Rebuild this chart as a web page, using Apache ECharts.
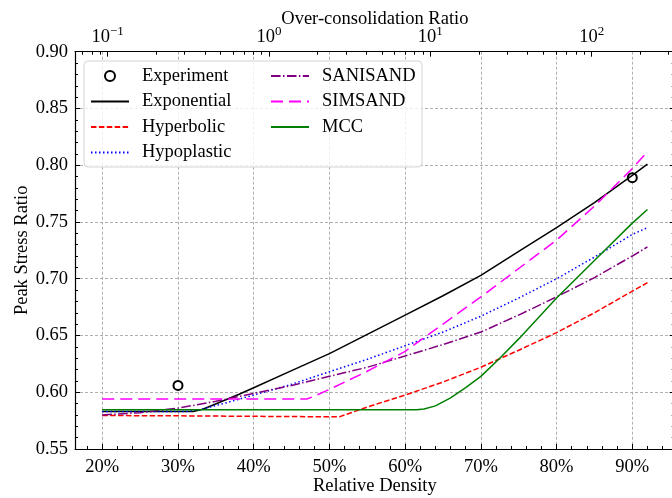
<!DOCTYPE html>
<html>
<head>
<meta charset="utf-8">
<script src="https://cdn.jsdelivr.net/npm/echarts@6/dist/echarts.min.js"></script>
<style>
html, body { margin: 0; padding: 0; background: #fff; }
#chart { width: 672px; height: 498px; }
</style>
</head>
<body>
<div id="chart"></div>
<script>
// data (x = relative density in %)
var expX = [30, 90];
var expY = [0.606, 0.789];

var exponentialX = [20, 32, 33, 34, 36, 38, 40, 45, 50, 55, 60, 65, 70, 75, 80, 85, 90, 92];
var exponentialY = [0.583, 0.583, 0.5845, 0.587, 0.5925, 0.598, 0.604, 0.619, 0.634, 0.651, 0.668, 0.685, 0.703, 0.724, 0.745, 0.767, 0.791, 0.801];

var hyperbolicX = [20, 30, 40, 51.3, 55, 60, 65, 70, 75, 80, 85, 90, 92];
var hyperbolicY = [0.5795, 0.5792, 0.5788, 0.5783, 0.587, 0.5975, 0.609, 0.622, 0.637, 0.6525, 0.670, 0.689, 0.6965];

var hypoplasticX = [20, 31, 33, 36, 40, 45, 50, 55, 60, 65, 70, 75, 80, 85, 90, 92];
var hypoplasticY = [0.583, 0.583, 0.5848, 0.590, 0.5975, 0.607, 0.618, 0.629, 0.641, 0.653, 0.667, 0.683, 0.700, 0.719, 0.739, 0.745];

var sanisandX = [20, 25, 30, 35, 40, 45, 50, 55, 60, 65, 70, 75, 80, 85, 90, 92];
var sanisandY = [0.580, 0.582, 0.586, 0.592, 0.599, 0.606, 0.614, 0.622, 0.632, 0.642, 0.653, 0.668, 0.684, 0.701, 0.720, 0.728];

var simsandX = [20, 47, 48, 50, 55, 60, 65, 70, 75, 80, 85, 90, 92];
var simsandY = [0.594, 0.594, 0.5965, 0.6025, 0.6185, 0.636, 0.660, 0.684, 0.709, 0.734, 0.764, 0.797, 0.812];

var mccX = [20, 61.5, 62.5, 64, 66, 68, 70, 72.5, 75, 80, 85, 90, 92];
var mccY = [0.5845, 0.5845, 0.5852, 0.588, 0.595, 0.604, 0.614, 0.630, 0.647, 0.683, 0.716, 0.749, 0.761];

// top axis: over-consolidation ratio (log scale), drawn in log10 space
var ocrMajor = [0.1, 1, 10, 100];
var ocrLogMin = -1.2027, ocrLogMax = 2.5145;

function pairs(xs, ys) {
  return xs.map(function (x, i) { return [x, ys[i]]; });
}

var ocrMinorLog = [];
for (var d = -2; d <= 2; d++) {
  for (var k = 2; k <= 9; k++) {
    var v = Math.log10(k) + d;
    if (v > ocrLogMin && v < ocrLogMax) ocrMinorLog.push(v);
  }
}
var ocrMajorLog = ocrMajor.map(function (v) { return Math.round(Math.log10(v)); });

var FONT = 'Liberation Serif';
var FS = 18.5;
var txt = { fontFamily: FONT, fontSize: FS, color: '#000' };
var gridLine = { show: true, lineStyle: { color: '#9a9a9a', type: [3, 2], width: 0.8 } };
var spine = { show: true, onZero: false, lineStyle: { color: '#000', width: 1.2 } };
var majorTick = { show: true, inside: true, length: 5, lineStyle: { color: '#000', width: 1 } };
var minorTick = { show: true, splitNumber: 5, length: 3, lineStyle: { color: '#000', width: 1 } };
var legendText = { fontFamily: FONT, fontSize: FS, lineHeight: FS, color: '#000', padding: [0, 0, 0, 8] };
var noMarker = { opacity: 0 };
var openCircle = { color: '#000', borderColor: '#000', borderWidth: 2, opacity: 1 };

var chart = echarts.init(document.getElementById('chart'));

var option = {
  animation: false,
  backgroundColor: '#fff',
  textStyle: { fontFamily: FONT },
  grid: { left: 75, top: 51.7, width: 599.7, height: 397.3, containLabel: false, outerBoundsMode: 'none' },
  xAxis: [{
    type: 'value', position: 'bottom',
    min: 16.4, max: 95.6, minInterval: 10, maxInterval: 10,
    name: 'Relative Density', nameLocation: 'middle', nameGap: 28, nameMoveOverlap: false,
    nameTextStyle: txt,
    axisLine: spine, axisTick: majorTick, minorTick: minorTick,
    splitLine: gridLine,
    axisLabel: {
      margin: 9, fontFamily: FONT, fontSize: FS, color: '#000',
      showMinLabel: false, showMaxLabel: false,
      formatter: function (v) { return v + '%'; }
    }
  }, {
    type: 'value', position: 'top',
    min: ocrLogMin, max: ocrLogMax,
    name: 'Over-consolidation Ratio', nameLocation: 'middle', nameGap: 23, nameMoveOverlap: false,
    nameTextStyle: txt,
    axisLine: spine,
    axisTick: { show: true, inside: true, length: 5, customValues: ocrMajorLog, lineStyle: { color: '#000', width: 1 } },
    splitLine: { show: false },
    axisLabel: {
      margin: 3, customValues: ocrMajorLog,
      formatter: function (v) {
        var n = Math.round(v);
        return '{b|10}{s|' + (n < 0 ? '\u2212' : '') + Math.abs(n) + '}';
      },
      rich: {
        b: { fontFamily: FONT, fontSize: FS, lineHeight: 24, color: '#000' },
        s: { fontFamily: FONT, fontSize: 13, lineHeight: 13, color: '#000', verticalAlign: 'top' }
      }
    }
  }, {
    type: 'value', position: 'top',
    min: ocrLogMin, max: ocrLogMax,
    axisLine: { show: false },
    axisTick: { show: true, inside: true, length: 3, customValues: ocrMinorLog, lineStyle: { color: '#000', width: 1 } },
    axisLabel: { show: false },
    splitLine: { show: false }
  }],
  yAxis: [{
    type: 'value', position: 'left',
    min: 0.55, max: 0.9, interval: 0.05,
    name: 'Peak Stress Ratio', nameLocation: 'middle', nameGap: 43, nameMoveOverlap: false,
    nameTextStyle: txt,
    axisLine: spine, axisTick: majorTick, minorTick: minorTick,
    splitLine: gridLine,
    axisLabel: {
      margin: 7, fontFamily: FONT, fontSize: FS, color: '#000',
      formatter: function (v) { return v.toFixed(2); }
    }
  }, {
    type: 'value', position: 'right',
    min: 0.55, max: 0.9, interval: 0.05,
    axisLine: spine, axisTick: majorTick, minorTick: minorTick,
    splitLine: { show: false },
    axisLabel: { show: false }
  }],
  graphic: [{
    type: 'rect', z: 3,
    shape: { x: 84, y: 61, width: 338, height: 106, r: 4 },
    style: { fill: 'rgba(255,255,255,0.8)', stroke: '#d4d4d4', lineWidth: 1 }
  }],
  legend: [{
    orient: 'vertical', left: 90, top: 66.5, padding: 0, z: 5,
    itemWidth: 38, itemHeight: 10, itemGap: 6.5,
    textStyle: legendText,
    data: [
      { name: 'Experiment', icon: 'emptyCircle', itemStyle: openCircle },
      { name: 'Exponential', itemStyle: noMarker },
      { name: 'Hyperbolic', itemStyle: noMarker },
      { name: 'Hypoplastic', itemStyle: noMarker }
    ]
  }, {
    orient: 'vertical', left: 270, top: 66.5, padding: 0, z: 5,
    itemWidth: 38, itemHeight: 10, itemGap: 6.5,
    textStyle: legendText,
    data: [
      { name: 'SANISAND', itemStyle: noMarker },
      { name: 'SIMSAND', itemStyle: noMarker },
      { name: 'MCC', itemStyle: noMarker }
    ]
  }],
  series: [{
    name: 'Experiment', type: 'scatter',
    data: pairs(expX, expY),
    symbol: 'emptyCircle', symbolSize: 9,
    itemStyle: openCircle
  }, {
    name: 'Exponential', type: 'line', data: pairs(exponentialX, exponentialY),
    showSymbol: false, symbol: 'none', color: '#000',
    lineStyle: { color: '#000', width: 1.5 }
  }, {
    name: 'Hyperbolic', type: 'line', data: pairs(hyperbolicX, hyperbolicY),
    showSymbol: false, symbol: 'none', color: '#ff0000',
    lineStyle: { color: '#ff0000', width: 1.5, type: [5.5, 2.4] }
  }, {
    name: 'Hypoplastic', type: 'line', data: pairs(hypoplasticX, hypoplasticY),
    showSymbol: false, symbol: 'none', color: '#0000ff',
    lineStyle: { color: '#0000ff', width: 1.5, type: [1.5, 2.5] }
  }, {
    name: 'SANISAND', type: 'line', data: pairs(sanisandX, sanisandY),
    showSymbol: false, symbol: 'none', color: '#800080',
    lineStyle: { color: '#800080', width: 1.5, type: [9.6, 2.4, 1.5, 2.4] }
  }, {
    name: 'SIMSAND', type: 'line', data: pairs(simsandX, simsandY),
    showSymbol: false, symbol: 'none', color: '#ff00ff',
    lineStyle: { color: '#ff00ff', width: 1.5, type: [12, 6] }
  }, {
    name: 'MCC', type: 'line', data: pairs(mccX, mccY),
    showSymbol: false, symbol: 'none', color: '#008000',
    lineStyle: { color: '#008000', width: 1.5 }
  }]
};

chart.setOption(option);
</script>
</body>
</html>
